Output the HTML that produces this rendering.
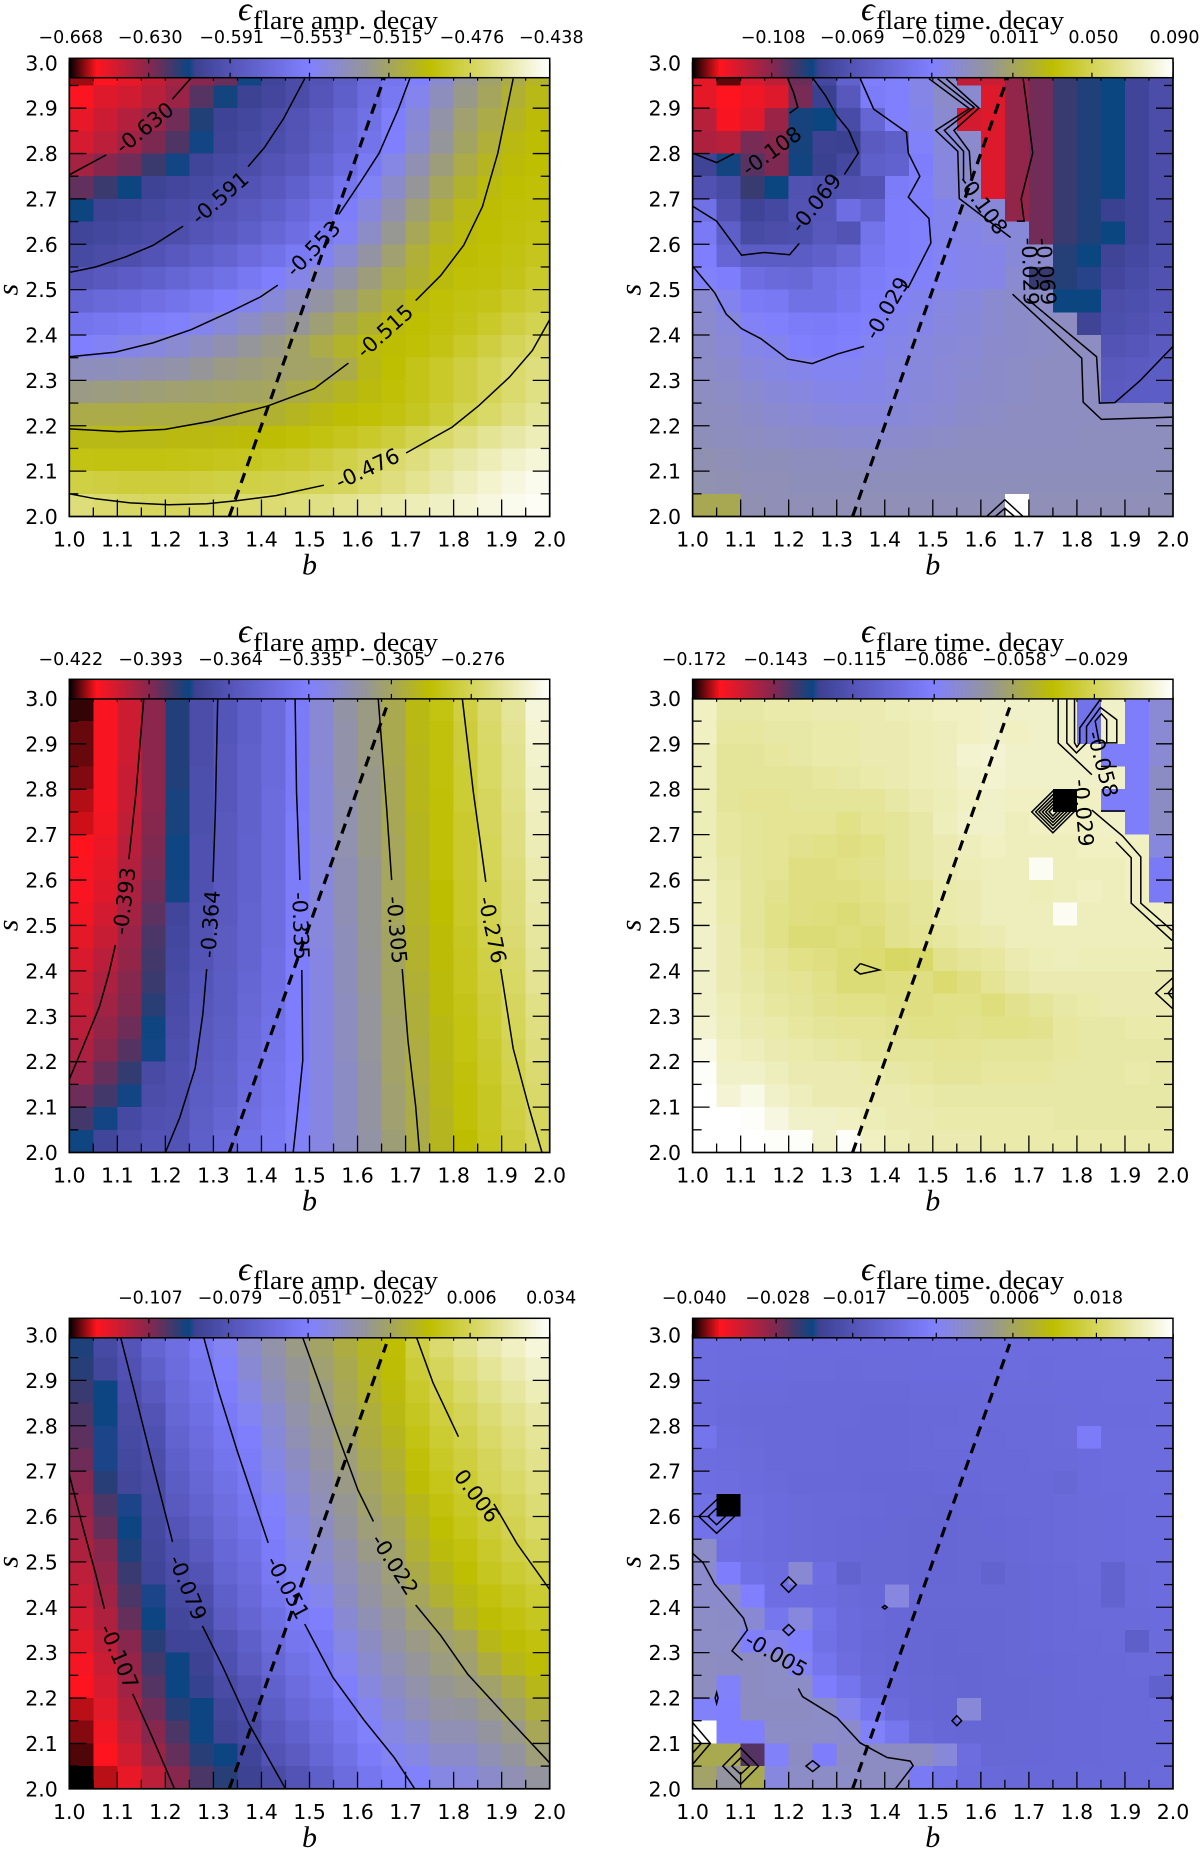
<!DOCTYPE html>
<html lang="en">
<head>
<meta charset="utf-8">
<title>Flare decay parameter maps</title>
<style>
html,body{margin:0;padding:0;background:#fff;width:1200px;height:1849px;overflow:hidden}
svg{display:block}
.cm{font-family:"Liberation Serif","DejaVu Serif",serif;fill:#000}
.sans{font-family:"DejaVu Sans","Liberation Sans",sans-serif;fill:#000}
</style>
</head>
<body>
<svg id="figure" xmlns="http://www.w3.org/2000/svg" width="1200" height="1849" viewBox="0 0 1200 1849">
<defs id="figureDefs"><linearGradient id="cmapGradient" x1="0" x2="1" y1="0" y2="0"></linearGradient></defs>
<rect x="0" y="0" width="1200" height="1849" fill="#fff"/>
<g id="panels"></g>
<g>
<text class="cm" x="238" y="20" font-size="34" font-style="italic">ϵ</text>
<text class="cm" x="253" y="29" font-size="26" textLength="185" lengthAdjust="spacingAndGlyphs">flare amp. decay</text>
<text class="cm" x="861" y="20" font-size="34" font-style="italic">ϵ</text>
<text class="cm" x="876" y="29" font-size="26" textLength="188" lengthAdjust="spacingAndGlyphs">flare time. decay</text>
<text class="cm" x="238" y="642" font-size="34" font-style="italic">ϵ</text>
<text class="cm" x="253" y="651" font-size="26" textLength="185" lengthAdjust="spacingAndGlyphs">flare amp. decay</text>
<text class="cm" x="861" y="642" font-size="34" font-style="italic">ϵ</text>
<text class="cm" x="876" y="651" font-size="26" textLength="188" lengthAdjust="spacingAndGlyphs">flare time. decay</text>
<text class="cm" x="238" y="1280" font-size="34" font-style="italic">ϵ</text>
<text class="cm" x="253" y="1289" font-size="26" textLength="185" lengthAdjust="spacingAndGlyphs">flare amp. decay</text>
<text class="cm" x="861" y="1280" font-size="34" font-style="italic">ϵ</text>
<text class="cm" x="876" y="1289" font-size="26" textLength="188" lengthAdjust="spacingAndGlyphs">flare time. decay</text>
</g>
</svg>
<script>
// ---------- shared axis data ----------
const xTickLabels = ["1.0","1.1","1.2","1.3","1.4","1.5","1.6","1.7","1.8","1.9","2.0"];
const yTickLabels = ["2.0","2.1","2.2","2.3","2.4","2.5","2.6","2.7","2.8","2.9","3.0"];
const dashedB = [1.333, 1.66];
const dashedS = [2.0, 2.98];
const colormapStops = [
 [0,0,0,0],[0.057,255,20,30],[0.17,130,40,80],[0.25,10,70,130],[0.262,60,65,145],
 [0.34,85,85,185],[0.5,128,128,255],[0.62,150,150,150],[0.75,190,190,0],[1,255,255,255]];

// ---------- top row ----------
const ampTopColorbar = ["−0.668","−0.630","−0.591","−0.553","−0.515","−0.476","−0.438"];
// thousandths; first row is s=2.95, last is s=2.00, columns b=1.00..1.95
const ampTopCells = [
[-660,-654,-650,-643,-636,-630,-625,-610,-604,-598,-592,-583,-572,-562,-553,-541,-527,-517,-510,-503],
[-654,-648,-645,-640,-634,-622,-612,-607,-603,-598,-590,-581,-570,-560,-548,-536,-523,-514,-506,-500],
[-650,-644,-639,-633,-626,-614,-606,-602,-598,-592,-585,-576,-566,-554,-543,-530,-518,-510,-502,-497],
[-646,-641,-635,-628,-621,-610,-604,-600,-596,-591,-583,-574,-564,-553,-540,-527,-515,-507,-499,-496],
[-636,-630,-626,-618,-610,-604,-600,-597,-592,-587,-578,-569,-558,-546,-533,-520,-510,-502,-497,-495],
[-624,-618,-611,-606,-603,-600,-596,-592,-587,-580,-572,-562,-551,-539,-526,-514,-505,-498,-495,-494],
[-611,-606,-604,-601,-598,-595,-591,-586,-581,-574,-565,-555,-544,-532,-519,-508,-500,-496,-494,-493],
[-604,-602,-600,-598,-595,-591,-587,-581,-575,-568,-560,-550,-538,-525,-513,-503,-498,-495,-493,-491],
[-600,-598,-595,-592,-587,-582,-577,-571,-565,-558,-550,-541,-529,-518,-507,-499,-496,-494,-492,-489],
[-590,-587,-584,-580,-576,-571,-566,-560,-554,-547,-539,-530,-520,-511,-505,-498,-494,-493,-490,-486],
[-576,-573,-571,-567,-564,-559,-554,-549,-543,-536,-529,-521,-513,-505,-498,-494,-492,-490,-486,-482],
[-563,-561,-558,-555,-552,-548,-543,-538,-532,-526,-519,-512,-505,-498,-495,-493,-490,-486,-481,-477],
[-553,-550,-547,-544,-541,-537,-532,-527,-522,-516,-510,-504,-498,-496,-494,-491,-486,-481,-476,-472],
[-536,-535,-534,-532,-530,-526,-522,-520,-518,-516,-515,-510,-500,-495,-490,-486,-481,-476,-471,-467],
[-522,-521,-520,-519,-518,-517,-516,-515,-514,-510,-506,-502,-498,-494,-490,-486,-481,-476,-471,-466],
[-510,-510,-510,-509,-509,-509,-508,-507,-505,-502,-499,-496,-494,-492,-488,-483,-477,-472,-467,-462],
[-500,-500,-500,-500,-499,-499,-498,-497,-496,-494,-492,-489,-486,-482,-477,-472,-467,-462,-458,-454],
[-491,-492,-492,-492,-491,-490,-489,-488,-487,-485,-482,-479,-475,-471,-467,-462,-458,-454,-450,-447],
[-480,-481,-482,-482,-482,-481,-480,-480,-479,-478,-476,-474,-471,-467,-463,-458,-453,-449,-445,-442],
[-468,-471,-473,-474,-474,-473,-472,-471,-470,-468,-466,-463,-460,-457,-454,-451,-448,-445,-442,-440]];
const ampTopContours = [
[[1,2.753],[1.077,2.797]],
[[1.2145,2.92],[1.253,2.966]],
[[1,2.538],[1.055,2.55],[1.119,2.573],[1.175,2.598],[1.237,2.64]],
[[1.372,2.771],[1.406,2.813],[1.446,2.877],[1.49,2.965]],
[[1,2.352],[1.095,2.362],[1.175,2.383],[1.254,2.412],[1.334,2.451],[1.398,2.484],[1.434,2.51]],
[[1.561,2.666],[1.609,2.742],[1.645,2.801],[1.685,2.898],[1.709,2.966]],
[[1,2.193],[1.103,2.187],[1.199,2.192],[1.294,2.21],[1.414,2.244],[1.51,2.282],[1.581,2.338]],
[[1.721,2.476],[1.773,2.531],[1.821,2.598],[1.86,2.683],[1.892,2.801],[1.924,2.965]],
[[1,2.05],[1.055,2.039],[1.127,2.03],[1.207,2.026],[1.286,2.028],[1.35,2.035],[1.43,2.046],[1.53,2.069]],
[[1.701,2.14],[1.797,2.197],[1.852,2.244],[1.916,2.307],[1.964,2.366],[2,2.434]]];
const ampTopLabels = [["-0.630",1.157,2.856,-39],["-0.591",1.314,2.702,-41],["-0.553",1.508,2.59,-46],["-0.515",1.657,2.408,-42],["-0.476",1.621,2.105,-25]];

const timeTopColorbar = ["−0.108","−0.069","−0.029","0.011","0.050","0.090"];
const timeTopCells = [
[-128,-142,-125,-120,-103,-78,-55,-29,-28,-22,-14,-120,-122,-110,-104,-95,-91,-88,-81,-74],
[-128,-133,-130,-126,-105,-85,-65,-32,-28,-22,-14,-16,-126,-110,-104,-95,-91,-88,-81,-74],
[-118,-132,-127,-112,-90,-88,-75,-52,-28,-24,-16,-124,-126,-110,-104,-95,-91,-88,-81,-74],
[-116,-118,-105,-108,-90,-84,-85,-62,-58,-27,-19,-15,-126,-110,-104,-95,-91,-88,-81,-74],
[-82,-89,-100,-106,-89,-85,-78,-58,-55,-30,-20,-15,-126,-110,-104,-95,-91,-88,-81,-74],
[-70,-76,-95,-88,-70,-72,-70,-68,-32,-28,-20,-16,-126,-110,-104,-95,-91,-88,-81,-74],
[-42,-70,-82,-78,-68,-66,-44,-54,-30,-29,-24,-19,-18,-110,-104,-95,-91,-85,-81,-74],
[-34,-58,-76,-74,-72,-65,-68,-40,-30,-28,-24,-22,-20,-18,-104,-95,-91,-88,-81,-74],
[-29,-52,-60,-60,-60,-57,-50,-36,-30,-28,-25,-23,-22,-18,-15,-92,-88,-82,-78,-72],
[-27,-30,-44,-48,-50,-42,-38,-32,-28,-27,-25,-23,-22,-16,-95,-92,-86,-80,-75,-70],
[-16,-24,-33,-35,-42,-42,-36,-30,-26,-24,-21,-19,-16,-14,-13,-88,-88,-74,-72,-68],
[-15,-19,-26,-28,-32,-33,-30,-28,-24,-22,-20,-18,-16,-14,-13,-12,-82,-72,-70,-66],
[-14,-17,-22,-24,-28,-30,-28,-25,-22,-20,-18,-17,-15,-14,-13,-12,-12,-68,-66,-62],
[-13,-15,-19,-21,-23,-25,-25,-23,-21,-19,-17,-16,-14,-13,-12,-12,-12,-64,-62,-60],
[-12,-13,-16,-18,-20,-22,-23,-22,-20,-18,-17,-15,-14,-13,-12,-12,-12,-62,-60,-59],
[-11,-12,-14,-16,-17,-19,-20,-20,-18,-17,-16,-14,-13,-12,-12,-12,-12,-12,-12,-12],
[-10,-11,-12,-13,-14,-15,-16,-16,-15,-14,-13,-12,-12,-12,-12,-12,-11,-11,-11,-11],
[-8,-9,-10,-10,-11,-11,-12,-12,-12,-11,-11,-11,-11,-11,-11,-11,-11,-11,-11,-11],
[-7,-8,-9,-9,-10,-10,-10,-10,-10,-10,-10,-10,-10,-10,-10,-10,-10,-10,-10,-10],
[14,14,-8,-9,-9,-9,-9,-9,-9,-9,-9,-9,-9,90,-9,-9,-9,-9,-9,-9]];
const timeTopContours = [
[[1,2.801],[1.05,2.78],[1.086,2.8]],
[[1.198,2.965],[1.21,2.935],[1.219,2.902],[1.202,2.889]],
[[1,2.684],[1.05,2.651],[1.102,2.576],[1.15,2.582],[1.202,2.577],[1.222,2.602]],
[[1.316,2.754],[1.345,2.801],[1.325,2.851],[1.299,2.885],[1.277,2.927],[1.251,2.965]],
[[1,2.552],[1.046,2.493],[1.07,2.446],[1.102,2.414],[1.142,2.392],[1.198,2.347],[1.249,2.337],[1.301,2.358],[1.357,2.375]],
[[1.349,2.965],[1.377,2.898],[1.445,2.847],[1.449,2.801],[1.473,2.75],[1.449,2.704],[1.492,2.657],[1.496,2.603],[1.449,2.505],[1.437,2.51]],
[[1.492,2.965],[1.576,2.899],[1.506,2.851],[1.552,2.805],[1.555,2.701],[1.662,2.615]],
[[1.51,2.965],[1.586,2.902],[1.524,2.851],[1.564,2.805],[1.564,2.742]],
[[1.528,2.965],[1.596,2.9],[1.544,2.851],[1.576,2.805],[1.58,2.742]],
[[1.688,2.965],[1.696,2.902],[1.708,2.801],[1.684,2.7],[1.69,2.651],[1.675,2.651]],
[[1.666,2.49],[1.81,2.349],[1.813,2.252],[1.851,2.214],[1.998,2.219]],
[[1.696,2.48],[1.841,2.352],[1.847,2.25],[1.879,2.251],[1.931,2.299],[2,2.375]],
[[1.612,2],[1.65,2.037],[1.688,2]],
[[1.63,2],[1.65,2.018],[1.67,2]]];
const timeTopLabels = [["-0.108",1.165,2.805,-36],["-0.069",1.257,2.691,-52],["-0.029",1.405,2.459,-60],["-0.108",1.604,2.687,54],["-0.069",1.735,2.54,85],["-0.029",1.702,2.54,88]];

// ---------- middle row (stored as columns: first column b=1.00, each from s=2.95 to s=2.00) ----------
const ampMidColorbar = ["−0.422","−0.393","−0.364","−0.335","−0.305","−0.276"];
const ampMidColumns = [
[-420,-418,-418,-417,-415,-414,-412,-411,-411,-410,-408,-406,-404,-403,-401,-399,-396,-390,-385,-379],
[-411,-411,-411,-411,-411,-410,-409,-408,-407,-405,-403,-401,-399,-397,-395,-393,-389,-385,-378,-373],
[-404,-404,-404,-403,-403,-402,-401,-400,-399,-398,-396,-395,-393,-392,-390,-387,-383,-378,-371,-368],
[-394,-394,-394,-394,-394,-393,-392,-391,-390,-388,-386,-385,-384,-382,-379,-378,-370,-368,-366,-364],
[-381,-381,-381,-381,-380,-380,-379,-379,-378,-373,-372,-371,-370,-369,-368,-367,-366,-366,-365,-364],
[-368,-368,-368,-367,-367,-367,-366,-366,-366,-365,-365,-364,-363,-362,-361,-360,-359,-358,-357,-356],
[-363,-363,-362,-362,-362,-361,-361,-361,-360,-360,-359,-359,-358,-358,-357,-356,-355,-354,-352,-350],
[-356,-356,-355,-355,-355,-355,-354,-354,-354,-353,-353,-353,-352,-351,-350,-349,-348,-347,-346,-344],
[-349,-349,-349,-349,-348,-348,-348,-348,-347,-347,-347,-346,-346,-345,-344,-343,-342,-341,-340,-339],
[-338,-338,-338,-338,-338,-337,-337,-337,-337,-337,-337,-336,-336,-336,-336,-336,-335,-335,-334,-333],
[-326,-326,-326,-327,-327,-327,-328,-328,-328,-328,-328,-329,-329,-329,-329,-329,-329,-329,-329,-329],
[-317,-318,-318,-318,-319,-319,-319,-320,-320,-320,-321,-321,-321,-322,-322,-322,-323,-323,-323,-323],
[-311,-311,-311,-312,-312,-312,-312,-313,-313,-313,-313,-314,-314,-315,-315,-315,-316,-316,-316,-317],
[-303,-303,-303,-304,-304,-304,-305,-305,-305,-305,-306,-306,-306,-306,-307,-307,-307,-308,-308,-309],
[-294,-294,-295,-295,-295,-296,-296,-296,-297,-297,-298,-298,-299,-300,-300,-301,-301,-302,-302,-302],
[-288,-289,-289,-289,-290,-290,-290,-290,-291,-291,-292,-292,-293,-293,-294,-294,-295,-295,-296,-296],
[-280,-281,-281,-282,-282,-283,-283,-283,-284,-284,-285,-286,-286,-287,-288,-288,-289,-290,-290,-291],
[-272,-273,-274,-274,-275,-275,-276,-276,-277,-277,-278,-279,-280,-281,-282,-283,-284,-285,-285,-286],
[-265,-266,-267,-267,-268,-269,-269,-270,-271,-271,-272,-273,-274,-275,-276,-277,-278,-279,-280,-281],
[-254,-255,-256,-257,-258,-259,-260,-261,-262,-263,-264,-265,-266,-268,-269,-270,-272,-273,-275,-276]];
const ampMidContours = [
[[1,2.161],[1.027,2.229],[1.063,2.322],[1.083,2.397],[1.096,2.457]],
[[1.124,2.646],[1.139,2.794],[1.155,3]],
[[1.2,2],[1.23,2.077],[1.262,2.186],[1.278,2.305],[1.286,2.404]],
[[1.299,2.596],[1.304,2.752],[1.309,3]],
[[1.466,2],[1.474,2.077],[1.486,2.203],[1.484,2.402]],
[[1.48,2.6],[1.473,2.794],[1.47,3]],
[[1.729,2],[1.721,2.102],[1.705,2.246],[1.693,2.404]],
[[1.671,2.6],[1.661,2.752],[1.643,3]],
[[1.984,2],[1.956,2.102],[1.924,2.229],[1.898,2.404]],
[[1.867,2.596],[1.841,2.794],[1.818,3]]];
const ampMidLabels = [["-0.393",1.115,2.554,-83],["-0.364",1.294,2.503,-86],["-0.335",1.481,2.499,88],["-0.305",1.681,2.49,85],["-0.276",1.88,2.49,78]];

const timeMidColorbar = ["−0.172","−0.143","−0.115","−0.086","−0.058","−0.029"];
const timeMidCells = [
[-11,-16,-16,-15,-15,-14,-14,-14,-13,-12,-11,-11,-10,-10,-10,-10,-95,-10,-88,-78],
[-11,-17,-17,-16,-16,-15,-15,-14,-14,-13,-12,-11,-10,-11,-10,-10,-95,-10,-88,-78],
[-12,-18,-18,-17,-16,-15,-15,-14,-14,-13,-12,-9,-8,-10,-10,-10,-10,-88,-88,-78],
[-12,-18,-18,-18,-18,-17,-16,-15,-14,-13,-12,-10,-9,-10,-10,-10,-10,-10,-88,-75],
[-13,-18,-19,-19,-18,-18,-18,-18,-16,-14,-13,-11,-10,-11,-11,-172,-11,-88,-88,-75],
[-13,-17,-18,-19,-19,-19,-21,-19,-18,-16,-12,-10,-10,-12,-11,-11,-11,-10,-88,-75],
[-13,-17,-18,-19,-20,-21,-22,-21,-18,-16,-14,-12,-11,-12,-12,-12,-11,-11,-11,-80],
[-12,-16,-18,-19,-22,-22,-21,-20,-18,-16,-14,-13,-12,-12,-3,-12,-12,-12,-11,-90],
[-11,-15,-18,-20,-22,-22,-22,-21,-19,-18,-15,-14,-12,-12,-13,-12,-11,-12,-11,-90],
[-11,-15,-18,-21,-22,-23,-24,-22,-20,-18,-15,-14,-12,-12,-12,-3,-12,-12,-12,-11],
[-10,-14,-18,-21,-24,-24,-23,-24,-20,-19,-17,-15,-14,-12,-12,-12,-12,-12,-12,-12],
[-10,-14,-17,-19,-21,-22,-24,-25,-27,-26,-20,-18,-17,-14,-13,-12,-13,-13,-13,-13],
[-10,-14,-16,-18,-19,-21,-24,-24,-23,-22,-25,-22,-19,-16,-14,-14,-14,-14,-14,-14],
[-10,-13,-15,-17,-18,-20,-21,-21,-22,-22,-21,-21,-23,-20,-18,-16,-15,-14,-14,-14],
[-9,-12,-14,-15,-17,-18,-19,-19,-20,-21,-21,-20,-21,-21,-20,-17,-16,-16,-15,-15],
[-5,-11,-12,-14,-15,-16,-17,-18,-18,-18,-19,-19,-18,-18,-18,-17,-16,-16,-16,-16],
[-2,-10,-10,-12,-14,-14,-14,-15,-16,-17,-18,-18,-17,-17,-17,-16,-16,-16,-15,-16],
[-1,-8,-5,-10,-12,-14,-14,-14,-14,-15,-16,-16,-16,-16,-16,-16,-16,-16,-16,-16],
[0,-1,-2,-6,-10,-10,-11,-13,-14,-14,-15,-15,-15,-15,-15,-16,-16,-16,-16,-16],
[0,-1,-1,-2,-2,-10,-2,-11,-13,-14,-14,-14,-15,-15,-15,-15,-15,-15,-15,-15]];
const timeMidContours = [
[[1.349,2.416],[1.337,2.402],[1.349,2.393],[1.389,2.402],[1.349,2.416]],
[[1.761,3],[1.761,2.902],[1.831,2.832]],
[[1.779,3],[1.779,2.902],[1.799,2.88],[1.82,2.902],[1.82,2.938],[1.849,2.98],[1.883,2.953],[1.883,2.902],[1.847,2.902]],
[[1.795,3],[1.795,2.902],[1.8,2.893],[1.806,2.902],[1.806,2.935],[1.848,2.997]],
[[1.847,2.9],[1.838,2.95],[1.851,2.966],[1.862,2.953],[1.862,2.9]],
[[1.85,2.85],[1.883,2.85]],
[[1.85,2.752],[1.9,2.752]],
[[1.881,2.684],[1.913,2.649],[1.913,2.549],[1.998,2.467]],
[[1.831,2.754],[1.895,2.697],[1.933,2.651],[1.933,2.549],[1.998,2.489]],
[[2,2.385],[1.964,2.351],[2,2.316]],
[[2,2.364],[1.99,2.351],[2,2.338]]];
const timeMidRings = [[1.75,2.75,0.044,0.046],[1.75,2.75,0.036,0.038],[1.75,2.75,0.029,0.03],[1.75,2.75,0.022,0.023],[1.75,2.75,0.015,0.016],[1.75,2.75,0.008,0.009]];
const timeMidLabels = [["-0.058",1.853,2.855,75],["-0.029",1.813,2.748,85]];

// ---------- bottom row ----------
const ampBotColorbar = ["−0.107","−0.079","−0.051","−0.022","0.006","0.034"];
const ampBotColumns = [
[-95,-96,-98,-100,-102,-104,-107,-109,-111,-113,-115,-117,-119,-121,-124,-125,-128,-130,-132,-135],
[-85,-87,-93,-93,-92,-92,-96,-100,-103,-107,-109,-111,-113,-115,-117,-119,-121,-123,-125,-128],
[-78,-80,-82,-84,-85,-86,-87,-92,-93,-95,-98,-100,-103,-107,-109,-111,-113,-115,-118,-122],
[-68,-71,-75,-79,-81,-83,-84,-85,-86,-87,-88,-92,-93,-96,-99,-101,-104,-107,-110,-115],
[-62,-63,-65,-67,-69,-71,-73,-75,-78,-81,-83,-85,-87,-89,-93,-93,-96,-100,-103,-107],
[-55,-57,-59,-61,-63,-65,-67,-69,-72,-75,-79,-82,-85,-88,-90,-91,-93,-93,-96,-100],
[-48,-50,-52,-54,-56,-58,-60,-62,-64,-66,-68,-71,-74,-79,-81,-84,-87,-89,-93,-96],
[-40,-42,-45,-48,-51,-53,-55,-57,-59,-61,-63,-65,-68,-71,-74,-79,-82,-85,-88,-90],
[-34,-36,-38,-41,-43,-45,-47,-50,-51,-53,-55,-58,-61,-64,-67,-70,-73,-76,-79,-84],
[-28,-30,-32,-34,-36,-39,-41,-43,-45,-47,-49,-51,-54,-57,-60,-63,-66,-70,-74,-79],
[-23,-25,-27,-29,-31,-33,-35,-37,-39,-41,-43,-47,-51,-54,-56,-58,-61,-64,-67,-71],
[-18,-20,-21,-22,-24,-26,-28,-30,-32,-35,-37,-39,-42,-45,-48,-51,-54,-57,-60,-63],
[-13,-14,-15,-17,-18,-20,-22,-24,-26,-28,-31,-33,-36,-39,-41,-44,-48,-50,-53,-57],
[-8,-9,-10,-11,-13,-15,-17,-19,-22,-24,-26,-28,-31,-33,-36,-39,-42,-45,-48,-52],
[3,1,-1,-3,-5,-7,-9,-12,-14,-16,-19,-22,-25,-28,-31,-34,-37,-41,-45,-50],
[10,7,4,2,0,-2,-4,-6,-8,-10,-13,-16,-22,-25,-27,-30,-33,-36,-40,-45],
[15,12,9,6,4,2,0,-2,-4,-6,-8,-11,-14,-22,-25,-28,-32,-36,-40,-44],
[20,17,14,11,9,7,6,3,1,-1,-3,-6,-9,-12,-18,-24,-28,-32,-36,-40],
[24,21,18,15,13,11,9,7,5,3,0,-3,-6,-9,-12,-19,-23,-28,-32,-36],
[28,25,22,19,17,15,13,11,9,6,3,0,-3,-6,-9,-12,-17,-21,-26,-32]];
const ampBotContours = [
[[1,2.692],[1.027,2.582],[1.055,2.473],[1.073,2.397]],
[[1.132,2.209],[1.171,2.118],[1.219,2]],
[[1.107,2.994],[1.135,2.878],[1.175,2.709],[1.215,2.544]],
[[1.277,2.359],[1.319,2.27],[1.374,2.143],[1.45,2]],
[[1.28,2.994],[1.31,2.878],[1.35,2.743],[1.414,2.542]],
[[1.49,2.363],[1.549,2.245],[1.613,2.152],[1.677,2.068],[1.719,2]],
[[1.486,2.994],[1.517,2.903],[1.557,2.785],[1.601,2.658],[1.633,2.589]],
[[1.721,2.405],[1.773,2.338],[1.829,2.253],[1.924,2.143],[2,2.057]],
[[1.723,2.994],[1.757,2.895],[1.81,2.776]],
[[1.884,2.628],[1.932,2.54],[2,2.439]]];
const ampBotLabels = [["-0.107",1.103,2.291,67],["-0.079",1.246,2.443,68],["-0.051",1.454,2.443,62],["-0.022",1.677,2.494,57],["0.006",1.848,2.645,53]];

const timeBotColorbar = ["−0.040","−0.028","−0.017","−0.005","0.006","0.018"];
// ten-thousandths
const timeBotCells = [
[-104,-106,-106,-107,-108,-108,-108,-108,-108,-108,-107,-107,-106,-106,-106,-106,-106,-105,-105,-104],
[-105,-107,-109,-109,-110,-110,-111,-110,-110,-109,-109,-108,-108,-107,-108,-107,-107,-106,-106,-105],
[-106,-110,-111,-112,-113,-114,-114,-113,-113,-112,-111,-111,-110,-110,-110,-109,-108,-107,-107,-106],
[-106,-111,-113,-114,-115,-115,-115,-116,-116,-114,-113,-112,-112,-112,-111,-110,-109,-108,-108,-106],
[-85,-109,-112,-114,-115,-115,-116,-117,-116,-113,-112,-112,-114,-112,-111,-110,-65,-107,-107,-106],
[-104,-107,-110,-113,-115,-114,-116,-116,-116,-115,-114,-114,-114,-113,-112,-112,-108,-107,-106,-106],
[-100,-105,-108,-111,-117,-117,-117,-118,-118,-118,-117,-116,-115,-114,-114,-120,-109,-107,-106,-105],
[-94,-400,-104,-109,-112,-114,-115,-117,-118,-120,-121,-118,-116,-115,-113,-112,-110,-108,-107,-106],
[-89,-94,-102,-108,-112,-114,-116,-118,-120,-122,-122,-120,-118,-116,-114,-112,-110,-108,-107,-106],
[-10,-99,-104,-108,-112,-114,-117,-119,-120,-122,-122,-120,-119,-117,-115,-112,-110,-108,-107,-106],
[-15,-60,-95,-105,-20,-100,-129,-119,-119,-122,-122,-120,-129,-119,-116,-114,-110,-129,-110,-107],
[-15,-15,-55,-100,-100,-104,-112,-116,-30,-119,-120,-120,-119,-119,-116,-114,-112,-129,-110,-107],
[-10,-12,-20,-80,-30,-89,-109,-114,-118,-122,-122,-122,-121,-119,-117,-114,-112,-112,-111,-109],
[-10,-10,-55,-40,-55,-94,-109,-116,-120,-122,-124,-122,-121,-119,-117,-115,-113,-112,-139,-110],
[-5,-8,-8,-10,-45,-84,-104,-114,-118,-122,-124,-124,-122,-120,-118,-116,-114,-113,-112,-111],
[-5,-50,-8,-10,-10,-60,-84,-109,-116,-120,-122,-124,-123,-121,-119,-117,-115,-114,-113,-134],
[-50,-55,-8,-8,-8,-10,-40,-84,-112,-118,-122,-25,-122,-121,-119,-117,-116,-114,-114,-112],
[290,-55,-55,-10,-10,-10,-15,-50,-80,-112,-118,-121,-122,-120,-119,-117,-116,-114,-114,-113],
[70,70,-262,-50,-8,-60,-8,-8,-8,-8,-25,-104,-119,-119,-118,-117,-116,-114,-114,-113],
[55,20,70,-30,-10,-10,-10,-8,-8,-70,-89,-106,-114,-116,-116,-116,-114,-113,-113,-112]];
const timeBotContours = [
[[1,2.519],[1.022,2.498],[1.046,2.451],[1.106,2.376],[1.114,2.35],[1.082,2.304],[1.104,2.283]],
[[1.22,2.221],[1.229,2.203],[1.301,2.156],[1.349,2.101],[1.405,2.069],[1.453,2.061],[1.459,2.051],[1.422,2]]];
const timeBotRings = [[1.05,2.6,0.037,0.037],[1.05,2.6,0.018,0.018],[1.2,2.45,0.016,0.017],[1.2,2.35,0.012,0.012],[1.4,2.4,0.005,0.004],[1.25,2.05,0.014,0.012],[1.55,2.15,0.01,0.011],[1.05,2.2,0.003,0.012],[2,2.2,0.004,0.006],[1.1,2.05,0.037,0.04],[1.1,2.05,0.018,0.018],[1,2.1,0.037,0.046],[1,2.1,0.018,0.021]];
const timeBotLabels = [["-0.005",1.174,2.295,30]];

// ---------- rendering ----------
const SVGNS = "http://www.w3.org/2000/svg";
function mk(parent, tag){ const n = document.createElementNS(SVGNS, tag); parent.appendChild(n); return n; }
function fromColumns(cols){ return cols[0].map((_, r) => cols.map(c => c[r])); }
function cmap(t){
  t = Math.max(0, Math.min(1, t));
  for(let i = 1; i < colormapStops.length; i++){
    const a = colormapStops[i-1], b = colormapStops[i];
    if(t <= b[0]){
      const f = (t-a[0])/(b[0]-a[0]);
      return "rgb(" + [1,2,3].map(k => Math.round(a[k]+(b[k]-a[k])*f)).join(",") + ")";
    }
  }
  return "rgb(255,255,255)";
}
const grad = document.getElementById("cmapGradient");
colormapStops.forEach(st => {
  const s = mk(grad, "stop");
  
  
  s.setAttribute("offset", st[0]);
  s.setAttribute("stop-color", "rgb(" + st[1] + "," + st[2] + "," + st[3] + ")");
});

const panelDefs = [
 {name:"amp-decay-top", cells:ampTopCells, unit:1e-3, vmin:-0.668, vmax:-0.438, cb:ampTopColorbar, lines:ampTopContours, rings:[], labels:ampTopLabels, x0:69.3, yTop:62.8, yBot:516.5, cbTop:58.3, cbBot:77.7, cbLab:43, sBase:11.5},
 {name:"time-decay-top", cells:timeTopCells, unit:1e-3, vmin:-0.147, vmax:0.090, cb:timeTopColorbar, lines:timeTopContours, rings:[], labels:timeTopLabels, x0:692.6, yTop:62.8, yBot:516.5, cbTop:58.3, cbBot:77.7, cbLab:43, sBase:634.5},
 {name:"amp-decay-middle", cells:fromColumns(ampMidColumns), unit:1e-3, vmin:-0.422, vmax:-0.2475, cb:ampMidColorbar, lines:ampMidContours, rings:[], labels:ampMidLabels, x0:69.3, yTop:698.4, yBot:1152.5, cbTop:679.3, cbBot:698.9, cbLab:665, sBase:11.5},
 {name:"time-decay-middle", cells:timeMidCells, unit:1e-3, vmin:-0.172, vmax:-0.001, cb:timeMidColorbar, lines:timeMidContours, rings:timeMidRings, labels:timeMidLabels, x0:692.6, yTop:698.4, yBot:1152.5, cbTop:679.3, cbBot:698.9, cbLab:665, sBase:634.5},
 {name:"amp-decay-bottom", cells:fromColumns(ampBotColumns), unit:1e-3, vmin:-0.135, vmax:0.034, cb:ampBotColorbar, lines:ampBotContours, rings:[], labels:ampBotLabels, x0:69.3, yTop:1335, yBot:1788.8, cbTop:1318.3, cbBot:1337.8, cbLab:1303.4, sBase:11.5},
 {name:"time-decay-bottom", cells:timeBotCells, unit:1e-4, vmin:-0.040, vmax:0.029, cb:timeBotColorbar, lines:timeBotContours, rings:timeBotRings, labels:timeBotLabels, x0:692.6, yTop:1335, yBot:1788.8, cbTop:1318.3, cbBot:1337.8, cbLab:1303.4, sBase:634.5}
];
const AXW = 480.4;

function drawTick(g, x1, y1, x2, y2, sw){
  const l = mk(g, "line");
  
  
  l.setAttribute("x1", x1); l.setAttribute("y1", y1);
  l.setAttribute("x2", x2); l.setAttribute("y2", y2);
  l.setAttribute("stroke", "#000");
  l.setAttribute("stroke-width", sw);
}

panelDefs.forEach(p => {
  const X = b => p.x0 + (b - 1) * AXW;
  const Y = s => p.yBot - (s - 2) * (p.yBot - p.yTop);
  const g = mk(document.getElementById("panels"), "g");
  
  

  const clip = mk(document.getElementById("figureDefs"), "clipPath");
  
  
  clip.setAttribute("id", "clip-" + p.name);
  const clipRect = mk(clip, "rect");
  
  
  clipRect.setAttribute("x", p.x0);
  clipRect.setAttribute("y", p.yTop);
  clipRect.setAttribute("width", AXW);
  clipRect.setAttribute("height", p.yBot - p.yTop);

  // heatmap
  const hm = mk(g, "g");
  
  
  hm.setAttribute("shape-rendering", "crispEdges");
  const nR = p.cells.length;
  p.cells.forEach((row, r) => row.forEach((v, c) => {
    const b0 = 1 + c * 0.05, s0 = 2 + (nR - 1 - r) * 0.05;
    const rect = mk(hm, "rect");
    
    
    rect.setAttribute("x", X(b0));
    rect.setAttribute("y", Y(s0 + 0.05));
    rect.setAttribute("width", X(b0 + 0.05) - X(b0) + 0.5);
    rect.setAttribute("height", Y(s0) - Y(s0 + 0.05) + 0.5);
    rect.setAttribute("fill", cmap((v * p.unit - p.vmin) / (p.vmax - p.vmin)));
  }));

  // contours
  const cg = mk(g, "g");
  
  
  cg.setAttribute("clip-path", "url(#clip-" + p.name + ")");
  p.lines.forEach(pts => {
    const pl = mk(cg, "polyline");
    
    
    pl.setAttribute("points", pts.map(q => X(q[0]) + "," + Y(q[1])).join(" "));
    pl.setAttribute("fill", "none");
    pl.setAttribute("stroke", "#000");
    pl.setAttribute("stroke-width", "1.5");
  });
  p.rings.forEach(q => {
    const pg = mk(cg, "polygon");
    
    
    pg.setAttribute("points", [[q[0]-q[2],q[1]],[q[0],q[1]+q[3]],[q[0]+q[2],q[1]],[q[0],q[1]-q[3]]].map(m => X(m[0]) + "," + Y(m[1])).join(" "));
    pg.setAttribute("fill", "none");
    pg.setAttribute("stroke", "#000");
    pg.setAttribute("stroke-width", "1.5");
  });
  p.labels.forEach(l => {
    const t = mk(g, "text");
    
    
    t.setAttribute("class", "sans");
    t.setAttribute("font-size", "21");
    t.setAttribute("text-anchor", "middle");
    t.setAttribute("dominant-baseline", "central");
    t.setAttribute("transform", "translate(" + X(l[1]) + "," + Y(l[2]) + ") rotate(" + l[3] + ")");
    t.textContent = l[0];
  });

  // dashed reference line
  const dash = mk(g, "line");
  
  
  dash.setAttribute("x1", X(dashedB[0])); dash.setAttribute("y1", Y(dashedS[0]));
  dash.setAttribute("x2", X(dashedB[1])); dash.setAttribute("y2", Y(dashedS[1]));
  dash.setAttribute("stroke", "#000");
  dash.setAttribute("stroke-width", "3.2");
  dash.setAttribute("stroke-dasharray", "10.5 7.3");

  // axis ticks
  const ax = mk(g, "g");
  
  
  for(let i = 1; i < 20; i++){
    const major = i % 2 === 0, len = major ? 17 : 9;
    const bx = X(1 + i * 0.05), sy = Y(2 + i * 0.05);
    drawTick(ax, bx, p.yBot, bx, p.yBot - len, 1.3);
    drawTick(ax, bx, p.cbBot, bx, p.cbBot + 3, 1.2);
    drawTick(ax, p.x0, sy, p.x0 + len, sy, 1.3);
    drawTick(ax, p.x0 + AXW, sy, p.x0 + AXW - len, sy, 1.3);
  }
  xTickLabels.forEach(lab => {
    const t = mk(ax, "text");
    
    
    t.setAttribute("class", "sans");
    t.setAttribute("font-size", "20.5");
    t.setAttribute("text-anchor", "middle");
    t.setAttribute("x", X(parseFloat(lab)));
    t.setAttribute("y", p.yBot + 30);
    t.textContent = lab;
  });
  yTickLabels.forEach(lab => {
    const t = mk(ax, "text");
    
    
    t.setAttribute("class", "sans");
    t.setAttribute("font-size", "20.5");
    t.setAttribute("text-anchor", "end");
    t.setAttribute("x", p.x0 - 11.5);
    t.setAttribute("y", Y(parseFloat(lab)) + 7.5);
    t.textContent = lab;
  });
  const xt = mk(ax, "text");
  
  
  xt.setAttribute("class", "cm");
  xt.setAttribute("font-size", "30");
  xt.setAttribute("font-style", "italic");
  xt.setAttribute("text-anchor", "middle");
  xt.setAttribute("x", p.x0 + AXW / 2);
  xt.setAttribute("y", p.yBot + 58);
  xt.textContent = "b";
  const yt = mk(ax, "text");
  
  
  yt.setAttribute("class", "cm");
  yt.setAttribute("font-size", "30");
  yt.setAttribute("font-style", "italic");
  yt.setAttribute("text-anchor", "middle");
  yt.setAttribute("transform", "translate(" + (p.sBase + 6) + "," + ((p.yTop + p.yBot) / 2) + ") rotate(-90)");
  yt.textContent = "s";
  const fr = mk(ax, "rect");
  
  
  fr.setAttribute("x", p.x0); fr.setAttribute("y", p.yTop);
  fr.setAttribute("width", AXW); fr.setAttribute("height", p.yBot - p.yTop);
  fr.setAttribute("fill", "none");
  fr.setAttribute("stroke", "#000");
  fr.setAttribute("stroke-width", "1.7");

  // colorbar
  const cb = mk(g, "g");
  
  
  const bar = mk(cb, "rect");
  
  
  bar.setAttribute("x", p.x0); bar.setAttribute("y", p.cbTop);
  bar.setAttribute("width", AXW); bar.setAttribute("height", p.cbBot - p.cbTop);
  bar.setAttribute("fill", "url(#cmapGradient)");
  bar.setAttribute("stroke", "#000");
  bar.setAttribute("stroke-width", "1.5");
  p.cb.forEach(lab => {
    const v = parseFloat(lab.replace("−", "-"));
    const x = p.x0 + AXW * (v - p.vmin) / (p.vmax - p.vmin);
    drawTick(cb, x, p.cbTop, x, p.cbTop + 5, 1.2);
    drawTick(cb, x, p.cbBot, x, p.cbBot - 5, 1.2);
    const t = mk(cb, "text");
    
    
    t.setAttribute("class", "sans");
    t.setAttribute("font-size", "17.5");
    t.setAttribute("text-anchor", "middle");
    t.setAttribute("x", x + 1.5);
    t.setAttribute("y", p.cbLab);
    t.textContent = lab;
  });
});
</script>
</body>
</html>
